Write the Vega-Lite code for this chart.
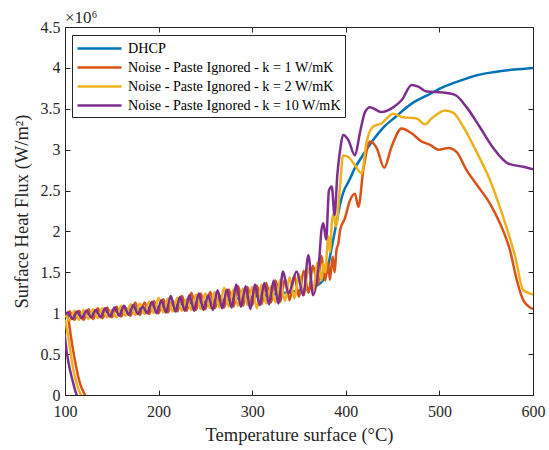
{
"$schema": "https://vega.github.io/schema/vega-lite/v6.json",
"width": 468, "height": 368,
"autosize": {"type": "none"},
"padding": {"left": 65, "top": 27, "right": 16, "bottom": 55},
"background": "white",
"config": {"view": {"stroke": "#262626", "strokeWidth": 1}, "font": "Liberation Serif"},
"title": {"text": "×10⁶", "anchor": "start", "frame": "group", "fontSize": 17, "font": "Liberation Serif", "fontWeight": "normal", "color": "#262626", "offset": -8},
"datasets": {
"D": [[100,0.97],[150,1.02],[200,1.08],[250,1.14],[300,1.20],[340,1.26],[360,1.30],[372,1.36],[378,1.45],[381,1.57],[385,1.81],[390,2.10],[394,2.34],[398,2.50],[403,2.61],[410,2.78],[417,2.91],[430,3.13],[440,3.27],[453,3.40],[470,3.56],[488,3.67],[505,3.77],[524,3.85],[540,3.91],[559,3.95],[580,3.98],[600,4.00]],
"k1": [[100,0.95],[105,1.02],[110,0.92],[115,1.03],[120,0.92],[125,1.05],[130,0.93],[135,1.06],[140,0.94],[145,1.07],[150,0.95],[155,1.08],[160,0.96],[165,1.06],[170,0.97],[175,1.13],[180,0.98],[185,1.13],[190,0.99],[195,1.15],[200,1.00],[205,1.17],[210,1.01],[215,1.15],[220,1.02],[225,1.21],[230,1.03],[235,1.25],[240,1.04],[245,1.24],[250,1.05],[255,1.26],[260,1.06],[265,1.22],[270,1.07],[275,1.29],[280,1.08],[285,1.33],[290,1.09],[295,1.32],[300,1.10],[305,1.34],[310,1.11],[315,1.37],[320,1.13],[325,1.40],[330,1.14],[335,1.42],[340,1.16],[345,1.46],[350,1.20],[355,1.52],[360,1.25],[365,1.58],[370,1.35],[374,1.70],[378,1.40],[381,1.62],[383,1.41],[386,1.69],[388,1.50],[390,1.77],[392,1.85],[394,2.02],[399,2.16],[404.5,2.38],[409.8,2.46],[413.4,2.30],[418.7,2.75],[425.9,3.10],[433,3.02],[441,2.78],[449,3.04],[459.7,3.26],[470.4,3.20],[481,3.10],[490,3.06],[499,3.00],[509.5,3.02],[518.5,2.97],[529,2.75],[540,2.57],[554,2.34],[564.7,2.10],[575.4,1.77],[582.6,1.41],[589.6,1.16],[600,1.05]],
"k1d": [[101.5,1.0],[104,0.9],[106,0.74],[108.9,0.53],[111.5,0.37],[114.2,0.22],[117,0.11],[119.6,0.04],[121.5,0.0],[123,-0.03]],
"k2": [[100,1.00],[105,0.91],[110,1.03],[115,0.92],[120,1.04],[125,0.93],[130,1.05],[135,0.94],[140,1.06],[145,0.95],[150,1.04],[155,0.95],[160,1.09],[165,0.97],[170,1.11],[175,0.98],[180,1.12],[185,0.99],[190,1.14],[195,1.00],[200,1.19],[205,1.01],[210,1.18],[215,1.02],[220,1.19],[225,1.03],[230,1.17],[235,1.04],[240,1.23],[245,1.05],[250,1.24],[255,1.06],[260,1.26],[265,1.07],[270,1.31],[275,1.08],[280,1.29],[285,1.09],[290,1.30],[295,1.10],[300,1.32],[305,1.06],[310,1.35],[315,1.12],[320,1.33],[325,1.13],[330,1.41],[335,1.15],[340,1.44],[345,1.18],[350,1.48],[355,1.22],[360,1.55],[365,1.28],[370,1.62],[374,1.40],[376,1.61],[378,1.50],[381.3,1.94],[383,1.75],[385,2.10],[387,2.22],[389.5,2.06],[394,2.57],[397,2.93],[402.6,2.91],[409.8,2.81],[417,2.71],[422,3.08],[429,3.28],[438,3.32],[450.7,3.44],[459.7,3.40],[475.7,3.38],[484.6,3.31],[491.7,3.38],[506,3.48],[515,3.45],[525.5,3.28],[539.8,2.97],[554,2.63],[568,2.18],[581,1.69],[589.6,1.28],[600,1.23]],
"k2d": [[100,0.92],[103.5,0.71],[107.1,0.43],[110,0.25],[112.5,0.14],[115,0.05],[117,0.0],[118.5,-0.03]],
"k10": [[100,0.98],[103,1.01],[108,0.93],[113,1.02],[118,0.94],[123,1.03],[128,0.95],[133,1.04],[138,0.95],[143,1.06],[148,0.96],[153,1.07],[158,0.97],[163,1.09],[168,0.98],[173,1.10],[178,0.99],[183,1.08],[188,1.00],[193,1.14],[198,1.00],[203,1.16],[208,1.01],[213,1.21],[218,1.02],[223,1.20],[228,1.03],[233,1.22],[238,1.03],[243,1.24],[248,1.04],[253,1.22],[258,1.04],[263,1.28],[268,1.06],[273,1.29],[278,1.07],[283,1.35],[288,1.08],[293,1.33],[298,1.05],[303,1.35],[308,1.10],[313,1.37],[318,1.11],[323,1.40],[328,1.12],[333,1.51],[338.6,1.24],[347.5,1.51],[354.6,1.22],[360,1.71],[365,1.22],[372,1.71],[374,2.02],[376,2.10],[379,1.90],[382,2.50],[385,2.55],[388,2.20],[391,2.70],[394,3.00],[397,3.18],[402.6,3.12],[409.8,2.93],[415,3.20],[420.5,3.46],[426,3.52],[438,3.46],[451,3.52],[460,3.61],[470.4,3.79],[477.5,3.77],[486.4,3.71],[504,3.70],[516.7,3.67],[529,3.52],[543,3.28],[557.6,3.02],[573.6,2.83],[589.6,2.79],[600,2.76]],
"k10d": [[99,0.78],[100,0.70],[101.8,0.53],[105.3,0.31],[108.9,0.14],[111,0.05],[112.5,0.0],[114,-0.03]]
},
"encoding": {
  "x": {"field": "T", "type": "quantitative", "scale": {"domain": [100, 600], "nice": false, "zero": false}, "axis": null},
  "y": {"field": "F", "type": "quantitative", "scale": {"domain": [0, 4.5], "nice": false, "zero": false}, "axis": null},
  "color": {"field": "s", "type": "nominal", "scale": {"domain": ["D", "k1", "k2", "k10"], "range": ["#0072BD", "#D95319", "#EDB120", "#7E2F8E"]},
    "legend": {"orient": "none", "legendX": 7, "legendY": 8, "title": null, "symbolType": "M-1,0H4.5", "symbolSize": 256, "symbolStrokeWidth": 2.5, "labelFont": "Liberation Serif", "labelFontSize": 14.2, "labelColor": "#000000", "labelOffset": 33, "labelLimit": 400, "strokeColor": "#262626", "fillColor": "white", "padding": 4, "rowPadding": 2,
      "labelExpr": "datum.label == 'D' ? 'DHCP' : datum.label == 'k1' ? 'Noise - Paste Ignored - k = 1 W/mK' : datum.label == 'k2' ? 'Noise - Paste Ignored - k = 2 W/mK' : 'Noise - Paste Ignored - k = 10 W/mK'"}},
  "detail": {"field": "g"}
},
"layer": [
  {"data": {"name": "D"}, "transform": [{"calculate": "datum[0]", "as": "T"}, {"calculate": "datum[1]", "as": "F"}, {"calculate": "'D'", "as": "s"}, {"calculate": "0", "as": "g"}],
   "mark": {"type": "line", "strokeWidth": 2.5, "clip": true, "interpolate": "monotone"},
   "encoding": {
     "x": {"field": "T", "type": "quantitative", "scale": {"domain": [100, 600], "nice": false, "zero": false},
       "axis": {"orient": "bottom", "values": [100, 200, 300, 400, 500, 600], "format": "d", "title": "Temperature surface (°C)", "titleFont": "Liberation Serif", "titleFontSize": 18.5, "titleFontWeight": "normal", "titleColor": "#262626", "titlePadding": 6, "labelFont": "Liberation Serif", "labelFontSize": 16, "labelColor": "#262626", "labelFlush": false, "labelPadding": 13, "tickSize": -5, "tickColor": "#262626", "domainColor": "#262626", "grid": false}},
     "y": {"field": "F", "type": "quantitative", "scale": {"domain": [0, 4.5], "nice": false, "zero": false},
       "axis": {"orient": "left", "values": [0, 0.5, 1, 1.5, 2, 2.5, 3, 3.5, 4, 4.5], "format": "~g", "title": "Surface Heat Flux (W/m²)", "titleFont": "Liberation Serif", "titleFontSize": 18.5, "titleFontWeight": "normal", "titleColor": "#262626", "titlePadding": 9, "labelFont": "Liberation Serif", "labelFontSize": 16, "labelColor": "#262626", "labelFlush": false, "labelPadding": 10, "tickSize": -5, "tickColor": "#262626", "domainColor": "#262626", "grid": false}}
   }},
  {"data": {"name": "k1"}, "transform": [{"calculate": "datum[0]", "as": "T"}, {"calculate": "datum[1]", "as": "F"}, {"calculate": "'k1'", "as": "s"}, {"calculate": "0", "as": "g"}],
   "mark": {"type": "line", "strokeWidth": 2.5, "clip": true, "interpolate": "monotone"}},
  {"data": {"name": "k1d"}, "transform": [{"calculate": "datum[0]", "as": "T"}, {"calculate": "datum[1]", "as": "F"}, {"calculate": "'k1'", "as": "s"}, {"calculate": "1", "as": "g"}],
   "mark": {"type": "line", "strokeWidth": 2.5, "clip": true, "interpolate": "monotone"}},
  {"data": {"name": "k2"}, "transform": [{"calculate": "datum[0]", "as": "T"}, {"calculate": "datum[1]", "as": "F"}, {"calculate": "'k2'", "as": "s"}, {"calculate": "0", "as": "g"}],
   "mark": {"type": "line", "strokeWidth": 2.5, "clip": true, "interpolate": "monotone"}},
  {"data": {"name": "k2d"}, "transform": [{"calculate": "datum[0]", "as": "T"}, {"calculate": "datum[1]", "as": "F"}, {"calculate": "'k2'", "as": "s"}, {"calculate": "1", "as": "g"}],
   "mark": {"type": "line", "strokeWidth": 2.5, "clip": true, "interpolate": "monotone"}},
  {"data": {"name": "k10"}, "transform": [{"calculate": "datum[0]", "as": "T"}, {"calculate": "datum[1]", "as": "F"}, {"calculate": "'k10'", "as": "s"}, {"calculate": "0", "as": "g"}],
   "mark": {"type": "line", "strokeWidth": 2.5, "clip": true, "interpolate": "monotone"}},
  {"data": {"name": "k10d"}, "transform": [{"calculate": "datum[0]", "as": "T"}, {"calculate": "datum[1]", "as": "F"}, {"calculate": "'k10'", "as": "s"}, {"calculate": "1", "as": "g"}],
   "mark": {"type": "line", "strokeWidth": 2.5, "clip": true, "interpolate": "monotone"},
   "encoding": {
     "x": {"field": "T", "type": "quantitative", "scale": {"domain": [100, 600], "nice": false, "zero": false},
       "axis": {"orient": "top", "values": [100, 200, 300, 400, 500, 600], "labels": false, "title": null, "tickSize": -5, "tickColor": "#262626", "domainColor": "#262626", "grid": false}},
     "y": {"field": "F", "type": "quantitative", "scale": {"domain": [0, 4.5], "nice": false, "zero": false},
       "axis": {"orient": "right", "values": [0, 0.5, 1, 1.5, 2, 2.5, 3, 3.5, 4, 4.5], "labels": false, "title": null, "tickSize": -5, "tickColor": "#262626", "domainColor": "#262626", "grid": false}}
   }}
],
"resolve": {"axis": {"x": "independent", "y": "independent"}}
}
